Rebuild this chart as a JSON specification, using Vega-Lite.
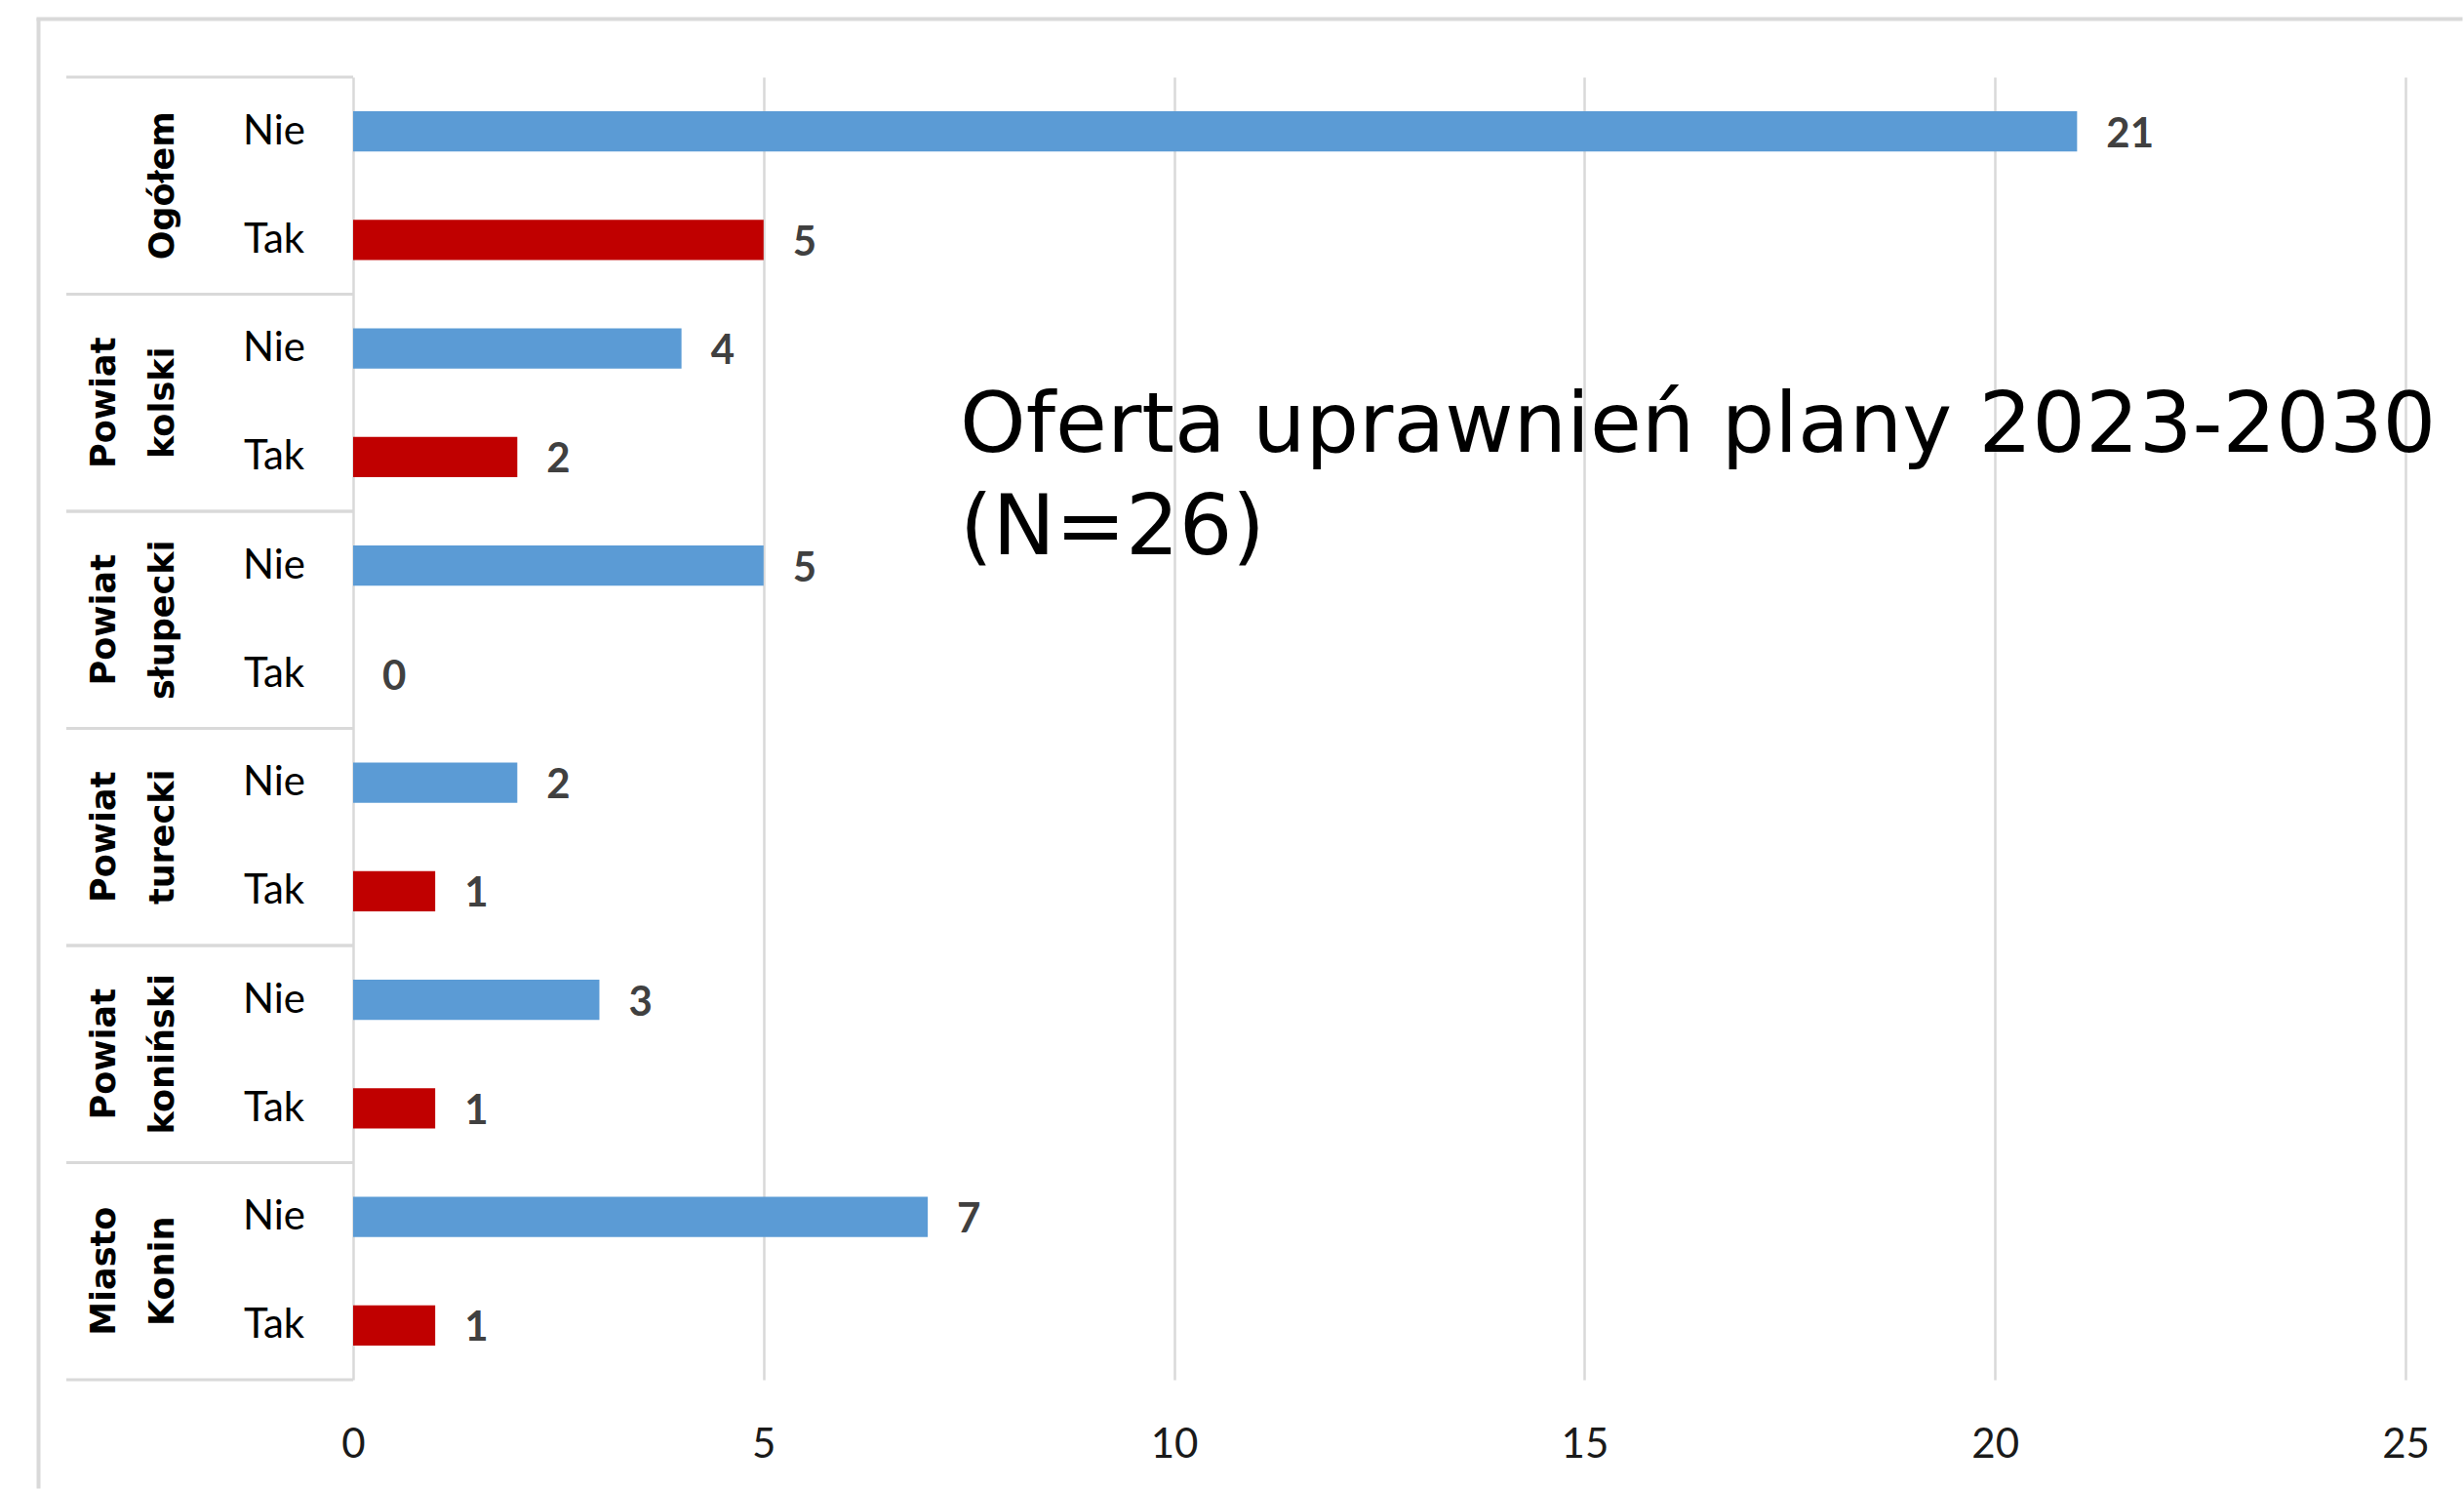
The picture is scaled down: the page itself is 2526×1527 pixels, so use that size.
{
  "$schema": "https://vega.github.io/schema/vega-lite/v6.json",
  "background": "white",
  "padding": {"left": 37, "top": 17, "right": 0, "bottom": 0},
  "datasets": {
    "rows": [
      {"group": "Ogółem", "answer": "Nie", "value": 21},
      {"group": "Ogółem", "answer": "Tak", "value": 5},
      {"group": "Powiat kolski", "answer": "Nie", "value": 4},
      {"group": "Powiat kolski", "answer": "Tak", "value": 2},
      {"group": "Powiat słupecki", "answer": "Nie", "value": 5},
      {"group": "Powiat słupecki", "answer": "Tak", "value": 0},
      {"group": "Powiat turecki", "answer": "Nie", "value": 2},
      {"group": "Powiat turecki", "answer": "Tak", "value": 1},
      {"group": "Powiat koniński", "answer": "Nie", "value": 3},
      {"group": "Powiat koniński", "answer": "Tak", "value": 1},
      {"group": "Miasto Konin", "answer": "Nie", "value": 7},
      {"group": "Miasto Konin", "answer": "Tak", "value": 1}
    ],
    "groups": [
      {"group": "Ogółem", "line1": "", "line2": "Ogółem"},
      {"group": "Powiat kolski", "line1": "Powiat", "line2": "kolski"},
      {"group": "Powiat słupecki", "line1": "Powiat", "line2": "słupecki"},
      {"group": "Powiat turecki", "line1": "Powiat", "line2": "turecki"},
      {"group": "Powiat koniński", "line1": "Powiat", "line2": "koniński"},
      {"group": "Miasto Konin", "line1": "Miasto", "line2": "Konin"}
    ],
    "empty": []
  },
  "spacing": 0,
  "bounds": "flush",
  "config": {"view": {"stroke": null}},
  "vconcat": [
    {
      "width": 2484, "height": 1,
      "data": {"name": "empty"},
      "mark": {"type": "rule"},
      "encoding": {},
      "view": {"stroke": "#d9d9d9", "strokeWidth": 3}
    },
    {
      "spacing": 28,
      "bounds": "flush",
      "hconcat": [
        {
          "width": 1, "height": 1504,
          "data": {"name": "empty"},
          "mark": {"type": "rule"},
          "encoding": {},
          "view": {"stroke": "#d9d9d9", "strokeWidth": 3}
        },
        {
          "spacing": 58,
          "bounds": "flush",
          "vconcat": [
            {
              "width": 1, "height": 1,
              "data": {"name": "empty"},
              "mark": {"type": "rule"},
              "encoding": {}
            },
            {
              "spacing": 0,
              "bounds": "flush",
              "hconcat": [
                {
                  "width": 294,
                  "height": 1335,
                  "layer": [
                    {
                      "data": {"name": "groups"},
                      "mark": {"type": "rule", "color": "#d9d9d9", "strokeWidth": 3},
                      "encoding": {
                        "y": {"field": "group", "type": "nominal", "bandPosition": 0, "axis": null,
                              "sort": ["Ogółem", "Powiat kolski", "Powiat słupecki", "Powiat turecki", "Powiat koniński", "Miasto Konin"],
                              "scale": {"paddingInner": 0, "paddingOuter": 0}}
                      }
                    },
                    {
                      "data": {"name": "groups"},
                      "mark": {"type": "rule", "color": "#d9d9d9", "strokeWidth": 3},
                      "encoding": {
                        "y": {"field": "group", "type": "nominal", "bandPosition": 1, "axis": null,
                              "sort": ["Ogółem", "Powiat kolski", "Powiat słupecki", "Powiat turecki", "Powiat koniński", "Miasto Konin"],
                              "scale": {"paddingInner": 0, "paddingOuter": 0}}
                      }
                    },
                    {
                      "data": {"name": "groups"},
                      "mark": {"type": "text", "angle": 270, "font": "DejaVu Sans", "fontSize": 35, "fontWeight": "bold",
                               "baseline": "middle", "align": "center", "dy": -108, "color": "black"},
                      "encoding": {
                        "y": {"field": "group", "type": "nominal", "axis": null,
                              "sort": ["Ogółem", "Powiat kolski", "Powiat słupecki", "Powiat turecki", "Powiat koniński", "Miasto Konin"],
                              "scale": {"paddingInner": 0, "paddingOuter": 0}},
                        "text": {"field": "line1", "type": "nominal"}
                      }
                    },
                    {
                      "data": {"name": "groups"},
                      "mark": {"type": "text", "angle": 270, "font": "DejaVu Sans", "fontSize": 35, "fontWeight": "bold",
                               "baseline": "middle", "align": "center", "dy": -48, "color": "black"},
                      "encoding": {
                        "y": {"field": "group", "type": "nominal", "axis": null,
                              "sort": ["Ogółem", "Powiat kolski", "Powiat słupecki", "Powiat turecki", "Powiat koniński", "Miasto Konin"],
                              "scale": {"paddingInner": 0, "paddingOuter": 0}},
                        "text": {"field": "line2", "type": "nominal"}
                      }
                    },
                    {
                      "data": {"name": "rows"},
                      "mark": {"type": "text", "font": "Lato", "fontSize": 42, "align": "center", "baseline": "middle", "dx": 66, "color": "black"},
                      "encoding": {
                        "y": {"field": "group", "type": "nominal", "axis": null,
                              "sort": ["Ogółem", "Powiat kolski", "Powiat słupecki", "Powiat turecki", "Powiat koniński", "Miasto Konin"],
                              "scale": {"paddingInner": 0, "paddingOuter": 0}},
                        "yOffset": {"field": "answer", "type": "nominal", "sort": ["Nie", "Tak"],
                                    "scale": {"paddingInner": 0.63, "paddingOuter": 0.315}},
                        "text": {"field": "answer", "type": "nominal"}
                      }
                    }
                  ]
                },
                {
                  "width": 2104,
                  "height": 1335,
                  "data": {"name": "rows"},
                  "title": {
                    "text": ["Oferta uprawnień plany 2023-2030", "(N=26)"],
                    "anchor": "start", "frame": "group", "orient": "top", "offset": 0,
                    "dx": 622, "dy": 575,
                    "font": "DejaVu Sans", "fontSize": 86, "fontWeight": "normal", "color": "black",
                    "baseline": "alphabetic", "lineHeight": 105
                  },
                  "encoding": {
                    "y": {"field": "group", "type": "nominal", "axis": null,
                          "sort": ["Ogółem", "Powiat kolski", "Powiat słupecki", "Powiat turecki", "Powiat koniński", "Miasto Konin"],
                          "scale": {"paddingInner": 0, "paddingOuter": 0}},
                    "yOffset": {"field": "answer", "type": "nominal", "sort": ["Nie", "Tak"],
                                "scale": {"paddingInner": 0.63, "paddingOuter": 0.315}},
                    "x": {"field": "value", "type": "quantitative",
                          "scale": {"domain": [0, 25], "nice": false},
                          "axis": {"values": [0, 5, 10, 15, 20, 25], "title": null, "domain": false, "ticks": false, "tickSize": 0,
                                   "labelPadding": 46, "labelFont": "Lato", "labelFontSize": 42, "labelColor": "#1a1a1a",
                                   "labelFlush": false, "grid": true, "gridColor": "#d9d9d9", "gridWidth": 2.5}}
                  },
                  "layer": [
                    {
                      "mark": {"type": "bar"},
                      "encoding": {
                        "color": {"field": "answer", "type": "nominal",
                                  "scale": {"domain": ["Nie", "Tak"], "range": ["#5B9BD5", "#C00000"]}, "legend": null}
                      }
                    },
                    {
                      "mark": {"type": "text", "align": "left", "baseline": "middle", "dx": 30, "dy": 3,
                               "font": "Lato", "fontSize": 42, "fontWeight": "bold", "color": "#404040"},
                      "encoding": {"text": {"field": "value", "type": "quantitative"}}
                    }
                  ]
                }
              ]
            }
          ]
        }
      ]
    }
  ]
}
